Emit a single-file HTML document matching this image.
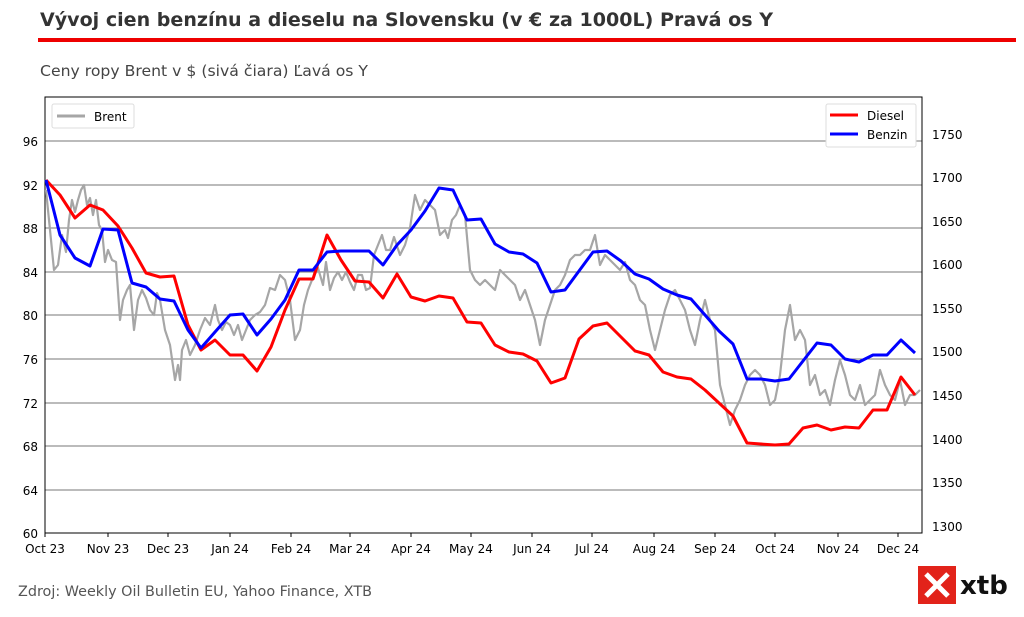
<!DOCTYPE html>
<html><head><meta charset="utf-8"><style>
body{margin:0;background:#fff;width:1024px;height:613px;overflow:hidden;font-family:"DejaVu Sans","Liberation Sans",sans-serif;}
</style></head><body>
<svg width="1024" height="613" xmlns="http://www.w3.org/2000/svg" font-family="DejaVu Sans, Liberation Sans, sans-serif">
<text x="40" y="26" font-size="19" font-weight="bold" fill="#333" textLength="733" lengthAdjust="spacingAndGlyphs">Vývoj cien benzínu a dieselu na Slovensku (v € za 1000L) Pravá os Y</text>
<rect x="38" y="38" width="978" height="4" fill="#e00"/>
<text x="40" y="76" font-size="15.5" fill="#444" textLength="328" lengthAdjust="spacingAndGlyphs">Ceny ropy Brent v $ (sivá čiara) Ľavá os Y</text>
<g stroke="#777" stroke-width="1">
<line x1="45" y1="141" x2="922" y2="141"/><line x1="45" y1="185" x2="922" y2="185"/><line x1="45" y1="228" x2="922" y2="228"/><line x1="45" y1="272" x2="922" y2="272"/><line x1="45" y1="315" x2="922" y2="315"/><line x1="45" y1="359" x2="922" y2="359"/><line x1="45" y1="403" x2="922" y2="403"/><line x1="45" y1="446" x2="922" y2="446"/><line x1="45" y1="490" x2="922" y2="490"/>
</g>
<rect x="45" y="97" width="877" height="436" fill="none" stroke="#000" stroke-width="1"/>
<g font-size="12" fill="#000" text-anchor="end">
<text x="38" y="146">96</text><text x="38" y="190">92</text><text x="38" y="233">88</text><text x="38" y="277">84</text><text x="38" y="320">80</text><text x="38" y="364">76</text><text x="38" y="408">72</text><text x="38" y="451">68</text><text x="38" y="495">64</text><text x="38" y="538">60</text>
</g>
<g font-size="12" fill="#000">
<text x="932" y="139">1750</text><text x="932" y="182">1700</text><text x="932" y="226">1650</text><text x="932" y="269">1600</text><text x="932" y="313">1550</text><text x="932" y="356">1500</text><text x="932" y="400">1450</text><text x="932" y="444">1400</text><text x="932" y="487">1350</text><text x="932" y="531">1300</text>
</g>
<g font-size="12" fill="#000" text-anchor="middle">
<text x="45" y="553">Oct 23</text><text x="108" y="553">Nov 23</text><text x="168" y="553">Dec 23</text><text x="230" y="553">Jan 24</text><text x="291" y="553">Feb 24</text><text x="350" y="553">Mar 24</text><text x="411" y="553">Apr 24</text><text x="471" y="553">May 24</text><text x="532" y="553">Jun 24</text><text x="592" y="553">Jul 24</text><text x="654" y="553">Aug 24</text><text x="715" y="553">Sep 24</text><text x="775" y="553">Oct 24</text><text x="838" y="553">Nov 24</text><text x="898" y="553">Dec 24</text>
</g>
<g stroke="#000"><line x1="45" y1="533" x2="45" y2="537"/><line x1="108" y1="533" x2="108" y2="537"/><line x1="168" y1="533" x2="168" y2="537"/><line x1="230" y1="533" x2="230" y2="537"/><line x1="291" y1="533" x2="291" y2="537"/><line x1="350" y1="533" x2="350" y2="537"/><line x1="411" y1="533" x2="411" y2="537"/><line x1="471" y1="533" x2="471" y2="537"/><line x1="532" y1="533" x2="532" y2="537"/><line x1="592" y1="533" x2="592" y2="537"/><line x1="654" y1="533" x2="654" y2="537"/><line x1="715" y1="533" x2="715" y2="537"/><line x1="775" y1="533" x2="775" y2="537"/><line x1="838" y1="533" x2="838" y2="537"/><line x1="898" y1="533" x2="898" y2="537"/></g>
<polyline fill="none" stroke="#a6a6a6" stroke-width="2.2" stroke-linejoin="round" points="46,190 50,230 54,270 58,265 62,235 66,252 69,220 72,200 75,212 78,200 81,190 84,185 87,205 90,198 93,215 96,200 99,225 102,230 105,262 108,250 112,260 116,262 120,320 123,300 127,290 130,285 134,330 138,300 142,290 146,298 150,310 154,315 157,293 160,300 165,330 170,345 175,380 178,365 180,380 182,350 186,340 190,355 195,345 200,330 205,318 210,325 215,305 218,320 222,330 226,322 230,325 234,335 238,325 242,340 246,330 250,320 255,315 260,312 265,305 270,288 275,290 280,275 285,280 290,300 295,340 300,330 304,305 308,290 312,280 318,268 323,285 326,262 330,290 334,278 338,272 342,280 346,272 350,282 354,290 358,275 362,275 366,290 370,288 374,255 378,245 382,235 386,250 390,250 394,237 400,255 405,245 410,228 415,195 420,210 425,200 430,205 435,210 440,235 445,230 448,238 452,220 456,215 460,205 465,215 470,270 475,280 480,285 485,280 490,285 495,290 500,270 505,275 510,280 515,285 520,300 525,290 530,305 535,320 540,345 545,320 550,305 555,290 560,285 565,275 570,260 575,255 580,255 585,250 590,250 595,235 600,265 605,255 610,260 615,265 620,270 625,262 630,280 635,285 640,300 645,305 650,330 655,350 660,330 665,310 670,295 675,290 680,300 685,310 690,330 695,345 700,320 705,300 710,320 715,330 720,385 725,405 730,425 735,410 740,400 745,385 750,375 755,370 760,375 765,385 770,405 775,400 780,375 785,330 790,305 795,340 800,330 805,340 810,385 815,375 820,395 825,390 830,405 835,380 840,360 845,375 850,395 855,400 860,385 865,405 870,400 875,395 880,370 885,385 890,395 895,400 900,380 905,405 910,395 915,395 920,390"/>
<polyline fill="none" stroke="#f00" stroke-width="3" stroke-linejoin="round" points="46,180 60,195 75,218 90,205 103,210 118,226 132,248 146,273 160,277 174,276 188,325 201,350 215,340 230,355 243,355 257,371 271,347 285,310 299,279 313,279 327,235 341,260 355,281 369,282 383,298 397,274 411,297 425,301 439,296 453,298 467,322 481,323 495,345 509,352 523,354 537,361 551,383 565,378 579,339 593,326 607,323 621,337 635,351 649,355 663,372 677,377 691,379 705,390 719,403 733,416 747,443 761,444 775,445 789,444 803,428 817,425 831,430 845,427 859,428 873,410 887,410 901,377 915,395"/>
<polyline fill="none" stroke="#00f" stroke-width="3" stroke-linejoin="round" points="46,180 60,235 75,258 90,266 103,229 118,230 132,283 146,287 160,299 174,301 188,330 201,348 215,332 230,315 243,314 257,335 271,319 285,300 299,270 313,270 327,252 341,251 355,251 369,251 383,265 397,245 411,230 425,211 439,188 453,190 467,220 481,219 495,244 509,252 523,254 537,263 551,292 565,290 579,271 593,252 607,251 621,261 635,274 649,279 663,289 677,295 691,299 705,315 719,331 733,344 747,379 761,379 775,381 789,379 803,361 817,343 831,345 845,359 859,362 873,355 887,355 901,340 915,353"/>
<rect x="52" y="104" width="82" height="24" rx="2" fill="#fff" stroke="#ddd"/>
<line x1="57" y1="116" x2="85" y2="116" stroke="#a6a6a6" stroke-width="3"/>
<text x="94" y="121" font-size="12">Brent</text>
<rect x="826" y="104" width="90" height="43" rx="2" fill="#fff" stroke="#ddd"/>
<line x1="830" y1="115" x2="858" y2="115" stroke="#f00" stroke-width="3"/>
<text x="867" y="120" font-size="12">Diesel</text>
<line x1="830" y1="134" x2="858" y2="134" stroke="#00f" stroke-width="3"/>
<text x="867" y="139" font-size="12">Benzin</text>
<text x="18" y="596" font-size="14.4" fill="#555" textLength="354" lengthAdjust="spacingAndGlyphs">Zdroj: Weekly Oil Bulletin EU, Yahoo Finance, XTB</text>
<rect x="918" y="566" width="38" height="38" fill="#e2231a"/>
<path d="M926 574 L948 596 M948 574 L926 596" stroke="#fff" stroke-width="5"/>
<text x="960" y="594" font-size="26" font-weight="bold" fill="#111">xtb</text>
</svg>
</body></html>
